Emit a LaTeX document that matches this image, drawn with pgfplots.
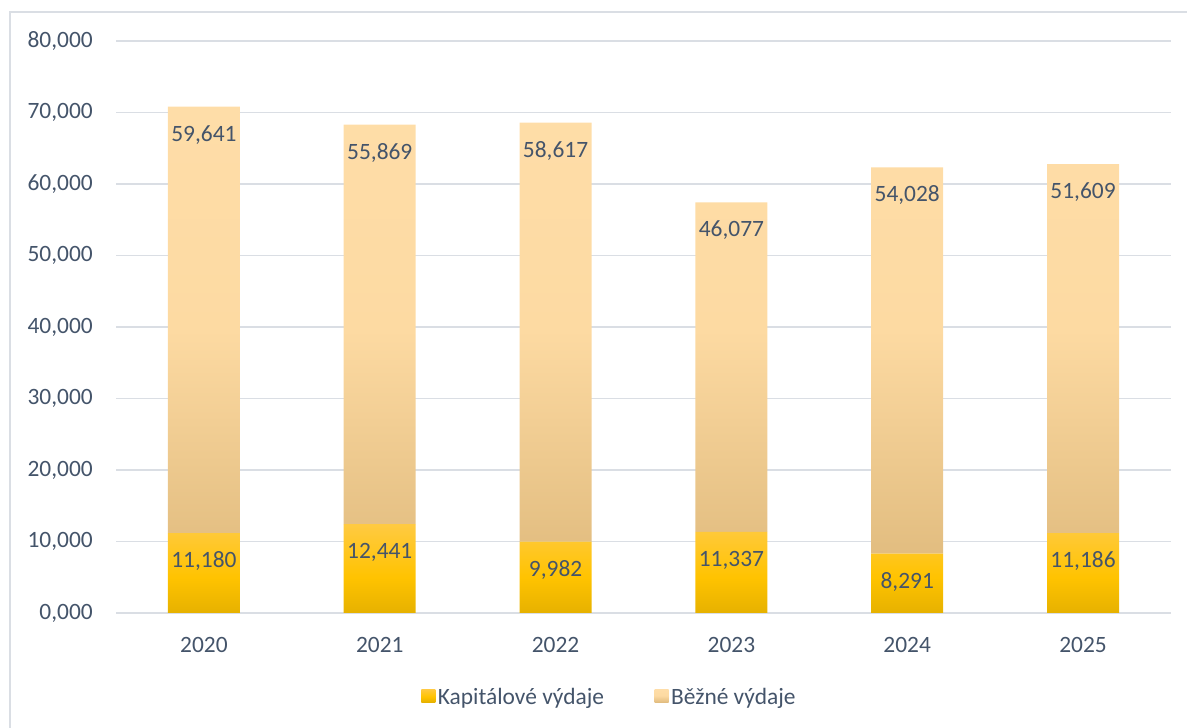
\documentclass[border=0pt]{standalone}
\usepackage{pgfplots}
\pgfplotsset{compat=1.18}
\usepackage{pgfplotstable}
\usepackage{fontspec}
\setmainfont{Carlito}
\definecolor{textcol}{HTML}{44546A}
\definecolor{gridcol}{HTML}{DADEE4}
\definecolor{kaptop}{HTML}{FFCA42}
\definecolor{kapmid}{HTML}{FFC300}
\definecolor{kapbot}{HTML}{E6B100}
\definecolor{beztop}{HTML}{FEDDA8}
\definecolor{bezmid}{HTML}{FDDAA2}
\definecolor{bezbot}{HTML}{E2BD80}
\pgfdeclareverticalshading{kapshade}{100bp}{color(0bp)=(kapbot); color(25bp)=(kapbot); color(45bp)=(kapmid); color(75bp)=(kaptop); color(100bp)=(kaptop)}
\pgfdeclareverticalshading{bezshade}{100bp}{color(0bp)=(bezbot); color(25bp)=(bezbot); color(50bp)=(bezmid); color(75bp)=(beztop); color(100bp)=(beztop)}
\pgfplotstableread{
x k b
0 11.180 59.641
1 12.441 55.869
2 9.982 58.617
3 11.337 46.077
4 8.291 54.028
5 11.186 51.609
}\data
\newcommand{\chartfont}{\fontsize{23.5}{28}\selectfont}
\begin{document}
\begin{tikzpicture}[x=1bp,y=1bp]
\useasboundingbox (0,0) rectangle (1187,728);
\draw[gridcol, line width=1.4bp] (10,-20) -- (10,716) -- (1230,716);
\begin{axis}[
  at={(116bp,115bp)}, anchor=south west,
  scale only axis, width=1055bp, height=572bp,
  ybar stacked, bar width=72bp,
  xmin=-0.5, xmax=5.5, ymin=0, ymax=80,
  ytick={0,10,...,80},
  xtick={0,...,5},
  xticklabels={2020,2021,2022,2023,2024,2025},
  axis line style={draw=none},
  tick style={draw=none},
  major tick length=0pt,
  ymajorgrids,
  grid style={gridcol, line width=1.4bp},
  tick label style={text=textcol, font=\chartfont},
  yticklabel style={anchor=east, inner sep=0pt, xshift=-23bp,
    /pgf/number format/.cd, fixed, fixed zerofill, precision=3, use comma, assume math mode=true},
  xticklabel style={anchor=center, inner sep=0pt, yshift=-32bp},
  point meta=explicit,
  every node near coord/.append style={anchor=center, inner sep=0pt,
    text=textcol, font=\chartfont,
    /pgf/number format/.cd, fixed, fixed zerofill, precision=3, use comma, assume math mode=true},
  legend style={at={(0.468,-0.147)}, anchor=center, draw=none, fill=none,
    font=\chartfont, text=textcol, nodes={inner sep=2.5bp},
    /tikz/every even column/.append style={column sep=48bp}},
  legend columns=2,
  legend image code/.code={\path[#1, draw=none] (0bp,-5bp) rectangle (14bp,8bp);},
  visualization depends on={rawy \as \val},
  nodes near coords,
  every node near coord/.append style={/tikz/yshift={\val*3.575bp-28bp}},
]
\addplot[draw=none, shade, shading=kapshade]
  table[x=x, y=k, meta=k] {\data};
\addlegendentry{Kapitálové výdaje}
\addplot[draw=none, shade, shading=bezshade]
  table[x=x, y=b, meta=b] {\data};
\addlegendentry{Běžné výdaje}
\end{axis}
\end{tikzpicture}
\end{document}
